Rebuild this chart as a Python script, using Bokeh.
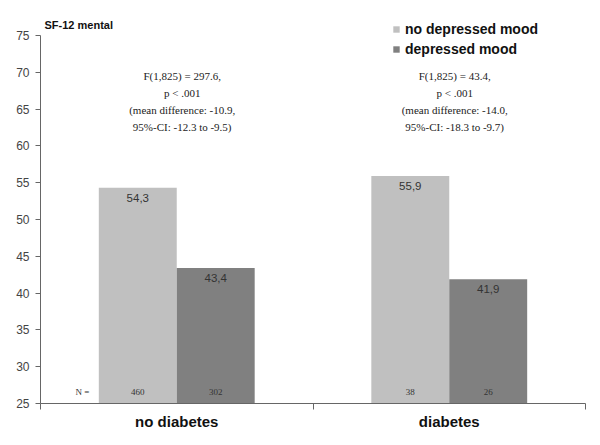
from bokeh.plotting import figure
from bokeh.models import (ColumnDataSource, LinearAxis, FixedTicker, Range1d, Legend, LegendItem, Label)
from bokeh.core.properties import value
from bokeh.embed import file_html
from bokeh.resources import INLINE

# ---- data ----
groups = ["no diabetes", "diabetes"]
series = ["no depressed mood", "depressed mood"]
means_no_dep = [54.3, 55.9]
means_dep = [43.4, 41.9]
n_no_dep = [460, 38]
n_dep = [302, 26]
stat_texts = [
    "F(1,825) = 297.6,\np < .001\n(mean difference: -10.9,\n95%-CI: -12.3 to -9.5)",
    "F(1,825) = 43.4,\np < .001\n(mean difference: -14.0,\n95%-CI: -18.3 to -9.7)",
]
y_ticks = [25, 30, 35, 40, 45, 50, 55, 60, 65, 70, 75]
colors = ["#c0c0c0", "#808080"]

BAR_W = 0.286
Y_MIN, Y_MAX = 25, 75
centers = [i + 0.5 for i in range(len(groups))]
x1 = [c - BAR_W / 2 for c in centers]
x2 = [c + BAR_W / 2 for c in centers]

def fmt(v):
    return f"{v:.1f}".replace(".", ",")

s1 = ColumnDataSource(dict(x=x1, top=means_no_dep, lab=[fmt(v) for v in means_no_dep],
                           n=[str(v) for v in n_no_dep]))
s2 = ColumnDataSource(dict(x=x2, top=means_dep, lab=[fmt(v) for v in means_dep],
                           n=[str(v) for v in n_dep]))

# frame extends above 75 so the legend / caption can live inside it
p = figure(width=592, height=437, output_backend="svg", toolbar_location=None,
           x_range=Range1d(0, len(groups)), y_range=Range1d(Y_MIN, 79.08),
           min_border_left=40, min_border_right=7, min_border_top=5, min_border_bottom=34)
p.outline_line_color = None
p.grid.grid_line_color = None
p.background_fill_color = "white"

r1 = p.vbar(x="x", top="top", bottom=Y_MIN, width=BAR_W, source=s1, fill_color=colors[0], line_color=None)
r2 = p.vbar(x="x", top="top", bottom=Y_MIN, width=BAR_W, source=s2, fill_color=colors[1], line_color=None)

# value labels and N labels
for s in (s1, s2):
    p.text(x="x", y="top", text="lab", source=s, text_align="center", text_baseline="middle",
           y_offset=10, text_font=value("Liberation Sans"), text_font_size="11.5px", text_color="#333333")
    p.text(x="x", y=Y_MIN, text="n", source=s, text_align="center", text_baseline="middle",
           y_offset=-12, text_font=value("Liberation Serif"), text_font_size="9px", text_color="#333333")

p.add_layout(Label(x=0.154, y=Y_MIN, y_offset=12, text="N =", text_align="center", text_baseline="middle",
                   text_font="Liberation Serif", text_font_size="9px", text_color="#333333"))

for c, t in zip(centers, stat_texts):
    p.add_layout(Label(x=c + 0.02, y=70.3, text=t, text_align="center", text_baseline="top",
                       text_font="Liberation Serif", text_font_size="11px", text_color="#222222",
                       text_line_height=1.4))

# y axis
ya = p.yaxis[0]
ya.ticker = FixedTicker(ticks=y_ticks)
ya.bounds = (Y_MIN, Y_MAX)
ya.minor_tick_line_color = None
ya.major_tick_in = 0
ya.major_tick_out = 5
ya.axis_line_color = "#666666"
ya.major_tick_line_color = "#666666"
ya.major_label_text_font = "Liberation Sans"
ya.major_label_text_font_size = "12px"
ya.major_label_text_color = "#444444"
ya.major_label_standoff = 6

# x axis: boundary ticks
xa = p.xaxis[0]
xa.ticker = FixedTicker(ticks=list(range(len(groups) + 1)))
xa.major_label_overrides = {i: "" for i in range(len(groups) + 1)}
xa.minor_tick_line_color = None
xa.major_tick_in = 0
xa.major_tick_out = 6
xa.axis_line_color = "#666666"
xa.major_tick_line_color = "#666666"
xa.major_label_standoff = 0
xa.major_label_text_font_size = "1px"

# x axis: category labels
xl = LinearAxis(ticker=FixedTicker(ticks=centers),
                major_label_overrides={c: g for c, g in zip(centers, groups)})
xl.axis_line_color = None
xl.major_tick_line_color = None
xl.minor_tick_line_color = None
xl.major_label_standoff = -3
xl.major_label_text_font = "Liberation Sans"
xl.major_label_text_font_style = "bold"
xl.major_label_text_font_size = "15px"
xl.major_label_text_color = "#111111"
p.add_layout(xl, "below")

# caption
p.add_layout(Label(x=4, y=379, x_units="screen", y_units="screen", text="SF-12 mental",
                   text_baseline="middle", text_font="Liberation Sans", text_font_style="bold",
                   text_font_size="11px", text_color="#111111"))

legend = Legend(items=[LegendItem(label=series[0], renderers=[r1]),
                       LegendItem(label=series[1], renderers=[r2])],
                location=(352, 346), orientation="vertical")
legend.label_text_font = "Liberation Sans"
legend.label_text_font_style = "bold"
legend.label_text_font_size = "14px"
legend.label_text_color = "#111111"
legend.glyph_width = 8
legend.glyph_height = 8
legend.label_height = 16
legend.spacing = 4
legend.label_standoff = 5
legend.padding = 0
legend.margin = 0
legend.border_line_color = None
legend.background_fill_alpha = 0
p.add_layout(legend, "center")

open("out.html", "w").write(file_html(p, INLINE))
